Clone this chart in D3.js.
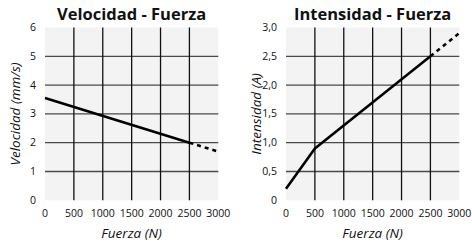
<!DOCTYPE html>
<html lang="es">
<head>
<meta charset="UTF-8">
<title>Velocidad / Intensidad - Fuerza</title>
<script src="https://d3js.org/d3.v7.min.js"></script>
<style>
    body { margin: 0; background: #fff; }
    svg text { font-family: "Open Sans", "Noto Sans", sans-serif; fill: #111; }
    .title { font-size: 16.5px; font-weight: bold; text-anchor: middle; }
    .tick-label { font-size: 10.5px; }
    .axis-label { font-size: 13.5px; font-style: italic; text-anchor: middle; }
</style>
</head>
<body>
<svg width="472" height="244"></svg>
<script>
    // datos
    const fuerzaTicks = [0, 500, 1000, 1500, 2000, 2500, 3000];

    const velFuerza = [0, 2500];
    const velValores = [3.55, 2.0];
    const velExtraFuerza = [2500, 3000];
    const velExtraValores = [2.0, 1.69];
    const velTicks = [0, 1, 2, 3, 4, 5, 6];

    const intFuerza = [0, 500, 2500];
    const intValores = [0.2, 0.9, 2.5];
    const intExtraFuerza = [2500, 3000];
    const intExtraValores = [2.5, 2.9];
    const intTicks = [0, 0.5, 1.0, 1.5, 2.0, 2.5, 3.0];

    const svg = d3.select("svg");
    const plotTop = 27.5, plotBottom = 200.3;

    function chart(opt) {
        const g = svg.append("g");
        const x = d3.scaleLinear().domain([0, 3000]).range([opt.left, opt.right]);
        const y = d3.scaleLinear().domain([0, opt.ymax]).range([plotBottom, plotTop]);

        g.append("rect")
            .attr("x", x(0)).attr("y", y(opt.ymax))
            .attr("width", x(3000) - x(0)).attr("height", y(0) - y(opt.ymax))
            .attr("fill", "#f3f3f3");

        g.selectAll("line.h").data(opt.yticks.slice(1, -1)).enter().append("line")
            .attr("x1", x(0)).attr("x2", x(3000))
            .attr("y1", d => y(d)).attr("y2", d => y(d))
            .attr("stroke", "#4a4a4a").attr("stroke-width", 1.3);

        g.selectAll("line.v").data(fuerzaTicks.slice(1, -1)).enter().append("line")
            .attr("x1", d => x(d)).attr("x2", d => x(d))
            .attr("y1", y(0)).attr("y2", y(opt.ymax))
            .attr("stroke", "#111").attr("stroke-width", 1.3);

        g.selectAll("text.yt").data(opt.yticks).enter().append("text")
            .attr("class", "tick-label")
            .attr("x", opt.left - 9).attr("y", d => y(d) + 3.5)
            .attr("text-anchor", "end")
            .text(opt.yfmt);

        g.selectAll("text.xt").data(fuerzaTicks).enter().append("text")
            .attr("class", "tick-label")
            .attr("x", d => x(d)).attr("y", 217)
            .attr("text-anchor", "middle")
            .text(d => d);

        const line = d3.line().x(d => x(d[0])).y(d => y(d[1]));
        g.append("path")
            .attr("d", line(d3.zip(opt.fx, opt.fy)))
            .attr("fill", "none").attr("stroke", "#000").attr("stroke-width", 2.6)
            .attr("stroke-linejoin", "round");
        g.append("path")
            .attr("d", line(d3.zip(opt.ex, opt.ey)))
            .attr("fill", "none").attr("stroke", "#000").attr("stroke-width", 2.6)
            .attr("stroke-dasharray", "4,4");

        g.append("text").attr("class", "title")
            .attr("x", (opt.left + opt.right) / 2).attr("y", 19.5)
            .text(opt.title);

        g.append("text").attr("class", "axis-label")
            .attr("x", (opt.left + opt.right) / 2).attr("y", 238)
            .text("Fuerza (N)");

        g.append("text").attr("class", "axis-label")
            .attr("transform", `translate(${opt.left - 25},${(plotTop + plotBottom) / 2}) rotate(-90)`)
            .text(opt.ylabel);
    }

    chart({
        left: 45, right: 218.3, ymax: 6, yticks: velTicks, yfmt: d => d,
        fx: velFuerza, fy: velValores, ex: velExtraFuerza, ey: velExtraValores,
        title: "Velocidad - Fuerza", ylabel: "Velocidad (mm/s)"
    });

    chart({
        left: 286, right: 459.3, ymax: 3, yticks: intTicks,
        yfmt: d => d === 0 ? "0" : d3.format(".1f")(d).replace(".", ","),
        fx: intFuerza, fy: intValores, ex: intExtraFuerza, ey: intExtraValores,
        title: "Intensidad - Fuerza", ylabel: "Intensidad (A)"
    });
</script>
</body>
</html>
